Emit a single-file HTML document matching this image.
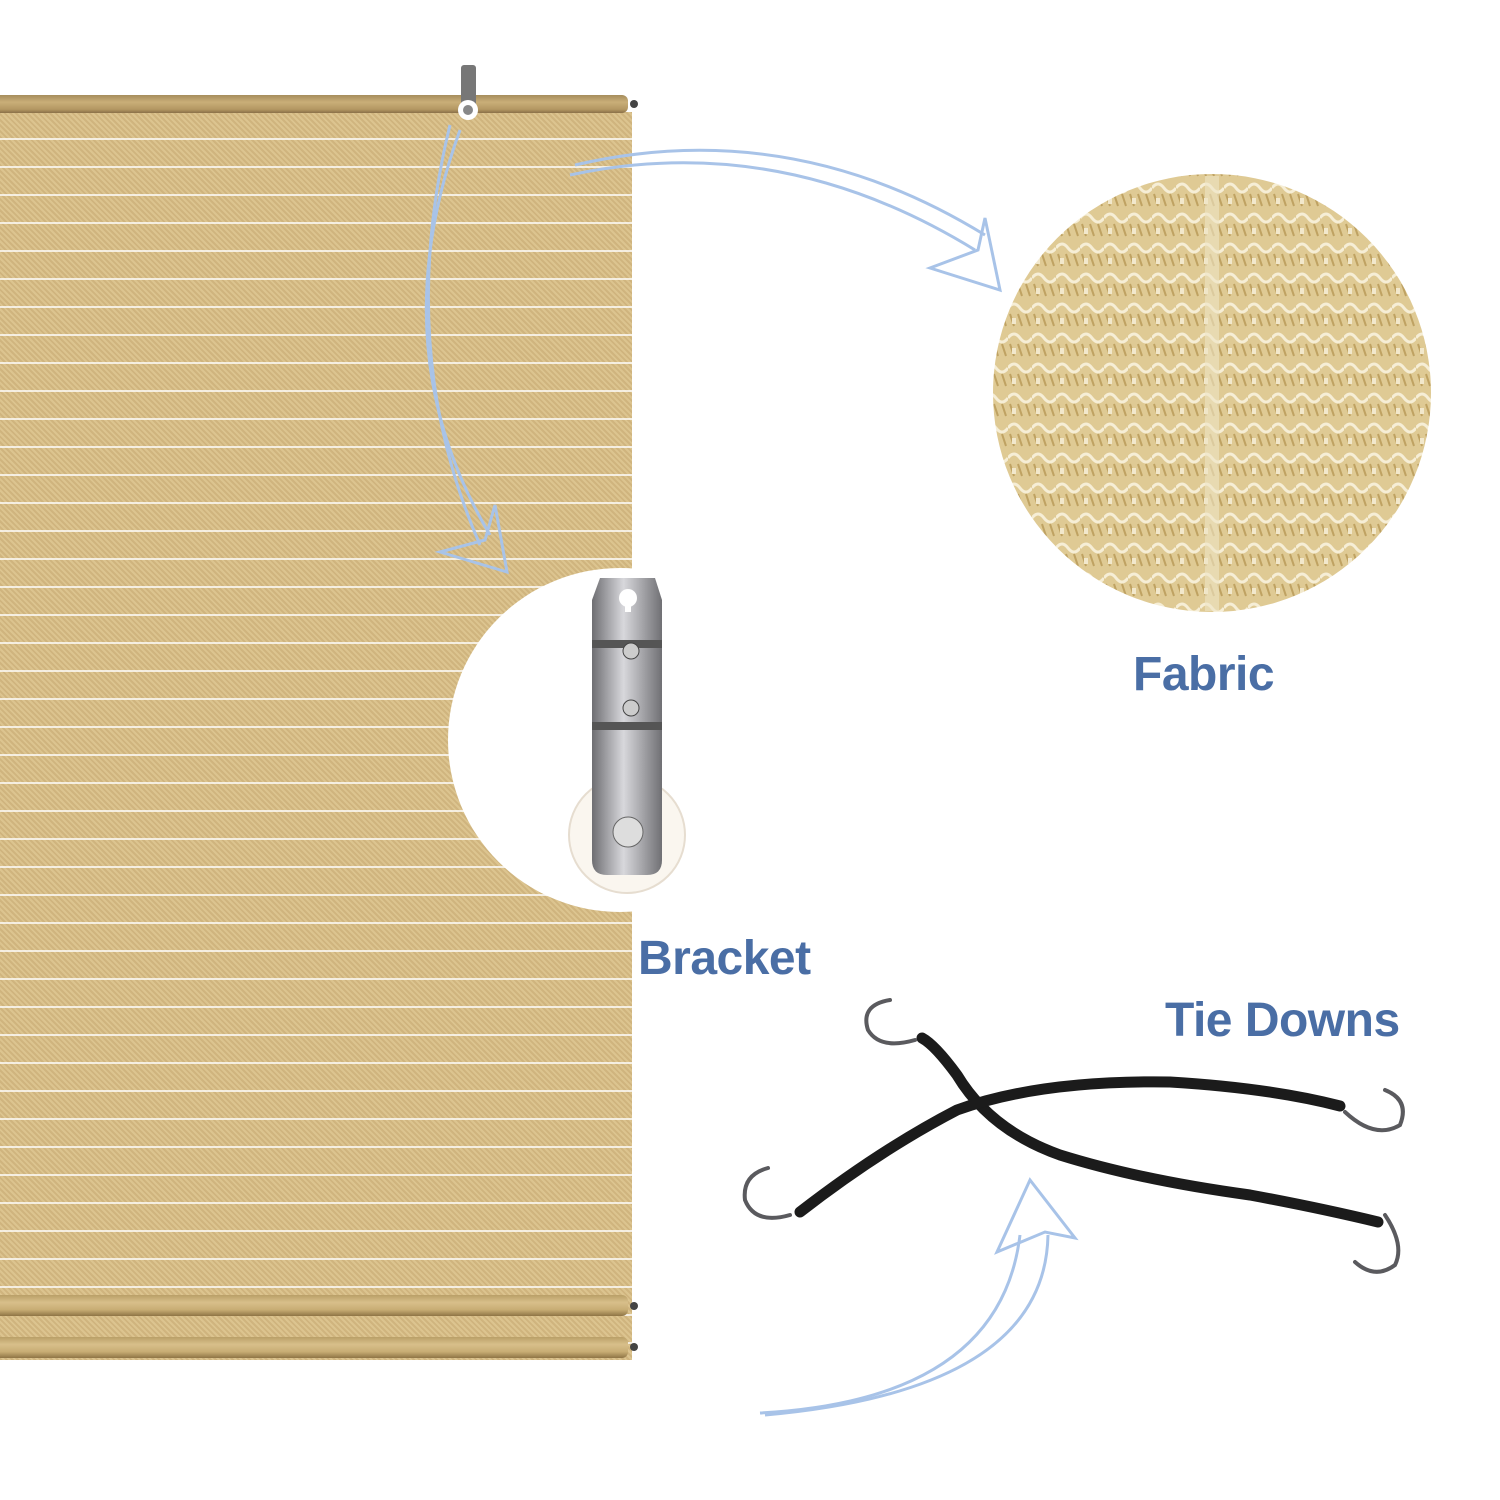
<!DOCTYPE html>
<html><head><meta charset="utf-8"><style>
html,body{margin:0;padding:0;background:#fff}
body{width:1500px;height:1500px;position:relative;overflow:hidden;font-family:"Liberation Sans",sans-serif}
.shade{position:absolute;left:0;top:112px;width:632px;height:1248px;
background:
repeating-linear-gradient(180deg,transparent 0 26px,rgba(255,255,255,.75) 26px 28px),
repeating-linear-gradient(45deg,rgba(150,110,50,.18) 0 2px,transparent 2px 4px),
#dcc48f}
.bar{position:absolute;left:0;width:628px;border-radius:0 6px 6px 0;
background:linear-gradient(180deg,#b99f67,#d8bf8a 35%,#c8ad74 70%,#8f7545)}
.lab{position:absolute;font-weight:bold;color:#4a6ea5;font-size:48px;letter-spacing:-0.5px}
</style></head><body>
<div class="shade"></div>
<div class="bar" style="top:95px;height:18px;background:linear-gradient(180deg,#a58d5c,#c9ae78 40%,#b39762 80%,#8a7048)"></div>
<div class="bar" style="top:1295px;height:21px"></div>
<div class="bar" style="top:1337px;height:21px"></div>
<svg width="1500" height="1500" style="position:absolute;left:0;top:0">
<defs>
<pattern id="knit" width="24" height="30" patternUnits="userSpaceOnUse">
<rect width="24" height="30" fill="#dfca94"/>
<path d="M0 8 Q6 0 12 8 T24 8" stroke="#f6eed6" stroke-width="3" fill="none"/>
<path d="M2 14 L6 26 M10 14 L14 26 M18 14 L22 26" stroke="#bfa262" stroke-width="2"/>
<rect x="4" y="18" width="4" height="6" fill="#f2e8cc"/>
</pattern>
<linearGradient id="mg" x1="0" x2="1"><stop offset="0" stop-color="#6e6e72"/><stop offset=".45" stop-color="#d8d8dc"/><stop offset="1" stop-color="#707074"/></linearGradient>
</defs>
<circle cx="1212" cy="393" r="219" fill="url(#knit)"/>
<rect x="1205" y="176" width="14" height="435" fill="#efe4c4" opacity=".6"/>
<circle cx="620" cy="740" r="172" fill="#fff"/>
<circle cx="627" cy="835" r="58" fill="#faf6ef" stroke="#e6ddd0" stroke-width="2"/>
<path d="M600 578 L655 578 L662 600 L662 860 Q662 875 647 875 L607 875 Q592 875 592 860 L592 600 Z" fill="url(#mg)" />
<circle cx="628" cy="598" r="9" fill="#fff"/><rect x="625" y="598" width="6" height="14" fill="#fff"/>
<rect x="592" y="640" width="70" height="8" fill="#555"/><rect x="592" y="722" width="70" height="8" fill="#555"/>
<circle cx="631" cy="651" r="8" fill="#ccc" stroke="#444"/><circle cx="631" cy="708" r="8" fill="#ccc" stroke="#444"/>
<circle cx="628" cy="832" r="15" fill="#ddd" stroke="#666"/>
<rect x="461" y="65" width="15" height="50" rx="3" fill="#777"/>
<circle cx="468" cy="110" r="10" fill="#fff"/><circle cx="468" cy="110" r="5" fill="#888"/>
<circle cx="634" cy="104" r="4" fill="#444"/><circle cx="634" cy="1306" r="4" fill="#444"/><circle cx="634" cy="1347" r="4" fill="#444"/>
<g fill="none" stroke="#a8c3e8" stroke-width="3">
<path d="M570 175 Q780 130 975 250"/><path d="M575 165 Q790 115 985 235"/>
<path d="M930 268 L1000 290 L985 218 L978 250 Z" stroke-linejoin="miter"/>
<path d="M460 130 Q380 350 490 535"/><path d="M450 125 Q395 350 480 545"/>
<path d="M440 552 L507 572 L495 505 L485 540 Z"/>
<path d="M760 1413 Q1000 1400 1020 1235"/><path d="M765 1415 Q1045 1390 1048 1235"/>
<path d="M997 1252 L1030 1180 L1075 1238 L1045 1232 Z"/>
</g>
<g fill="none" stroke-linecap="round">
<path d="M922 1038 Q935 1045 957 1075 Q990 1130 1060 1155 Q1140 1180 1250 1195 Q1320 1208 1378 1222" stroke="#1b1b1b" stroke-width="11"/>
<path d="M800 1212 Q880 1150 957 1110 Q1040 1080 1170 1082 Q1270 1088 1340 1106" stroke="#1b1b1b" stroke-width="11"/>
<g stroke="#5a5a5e" stroke-width="4">
<path d="M915 1040 Q880 1050 868 1030 Q860 1005 890 1000"/>
<path d="M790 1215 Q755 1225 745 1200 Q742 1175 768 1168"/>
<path d="M1345 1112 Q1375 1140 1400 1125 Q1410 1100 1385 1090"/>
<path d="M1385 1215 Q1405 1245 1395 1265 Q1375 1280 1355 1262"/>
</g></g>
</svg>
<div class="lab" style="left:1133px;top:647px">Fabric</div>
<div class="lab" style="left:638px;top:931px">Bracket</div>
<div class="lab" style="left:1165px;top:993px">Tie Downs</div>
</body></html>
